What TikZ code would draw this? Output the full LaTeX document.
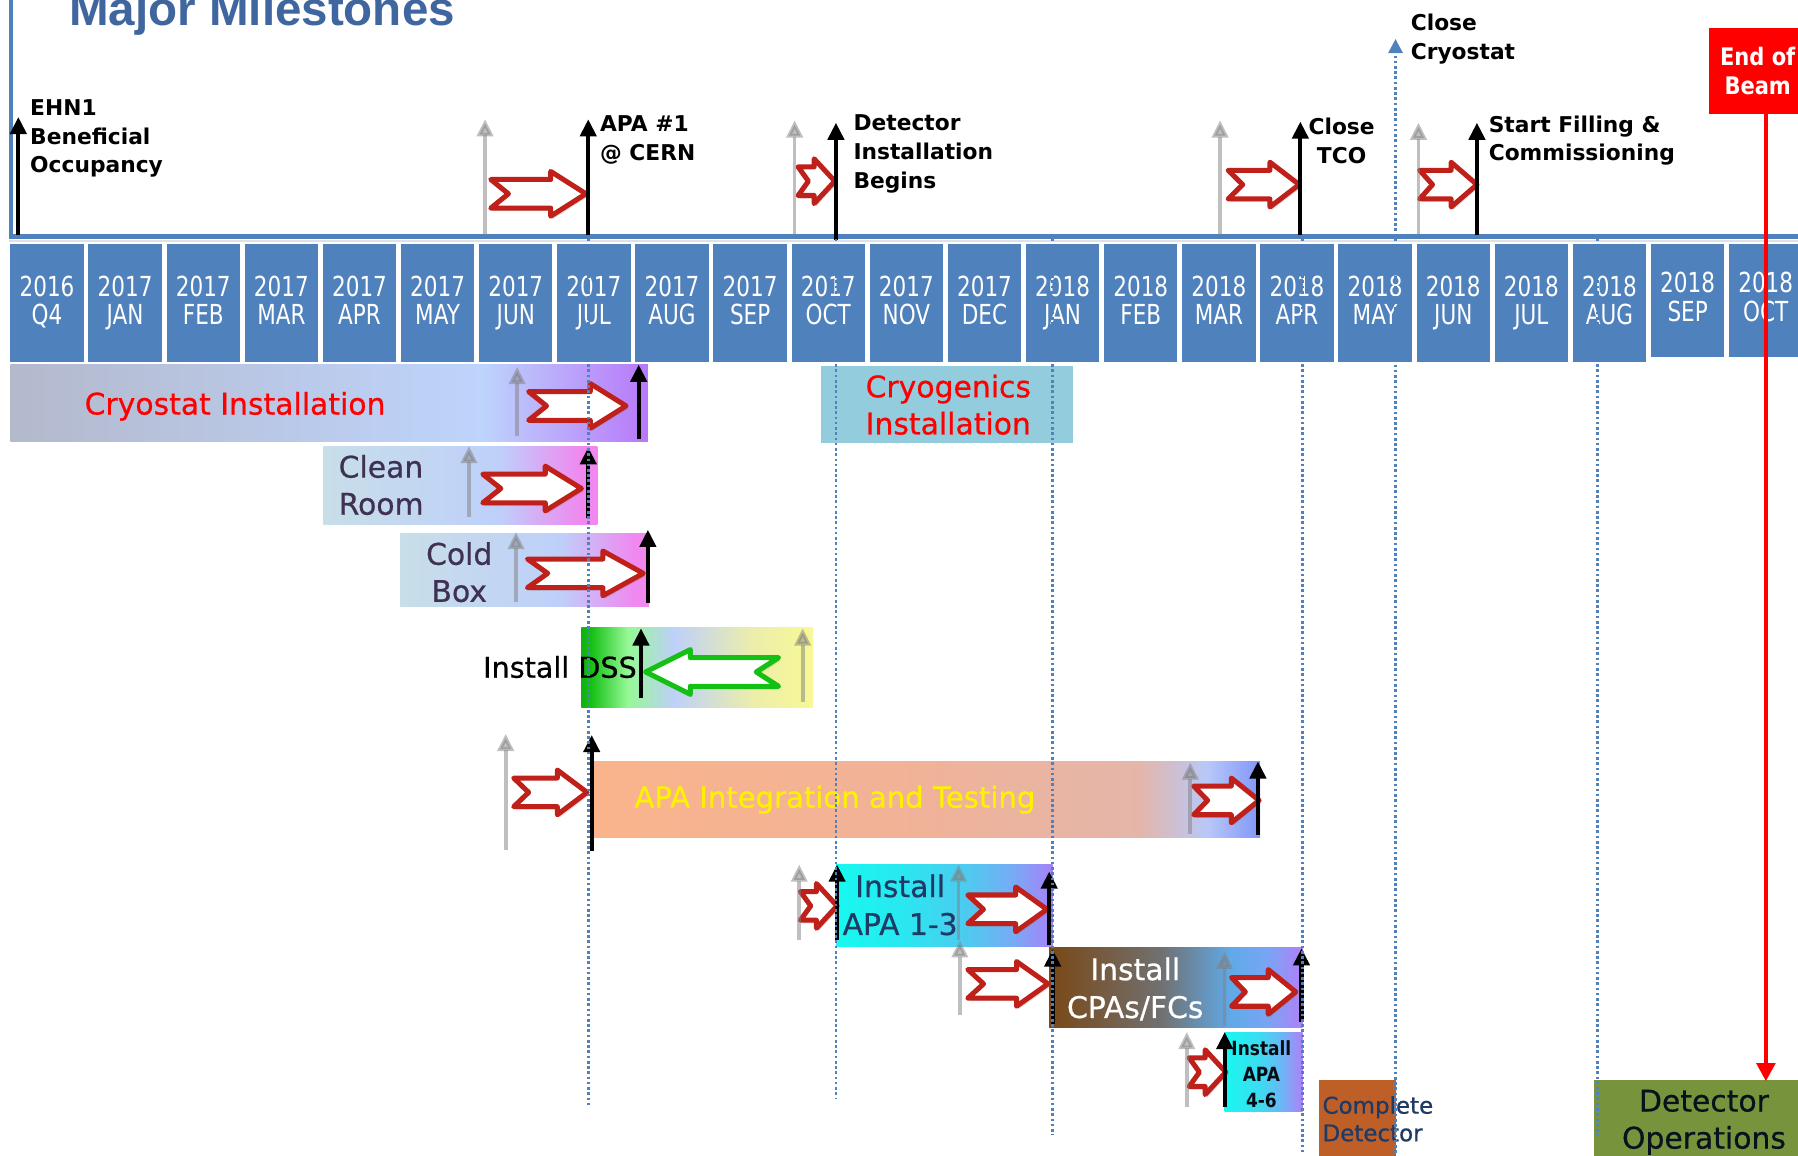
\documentclass[tikz,border=0pt]{standalone}
\usepackage{fontspec}
\setmainfont{DejaVu Sans}
\newfontfamily\condfont[FakeStretch=0.78]{DejaVu Sans}
\newfontfamily\narrowfont[FakeStretch=0.87]{DejaVu Sans}
\newfontfamily\heavyfont[FakeBold=0.6]{DejaVu Sans}
\newfontfamily\titlefont{Liberation Sans}
\usetikzlibrary{arrows.meta,shadows}

\definecolor{slideblue}{HTML}{4F81BD}
\definecolor{titleblue}{HTML}{4066A0}
\definecolor{chevred}{HTML}{C0201A}
\definecolor{chevgreen}{HTML}{14C014}
\definecolor{cryogenics}{HTML}{93CDDD}
\definecolor{completeorange}{HTML}{BE5F28}
\definecolor{opsgreen}{HTML}{77933C}
\definecolor{navytext}{HTML}{1F3A64}
\definecolor{purpletext}{HTML}{3F3151}

%% bar shadings (only the middle 50bp is stretched over a bar)
\pgfdeclarehorizontalshading{cryoshade}{100bp}{rgb(0bp)=(.706,.725,.8); rgb(25bp)=(.706,.725,.8); rgb(62bp)=(.745,.831,.988); rgb(75bp)=(.722,.471,.98); rgb(100bp)=(.722,.471,.98)}
\pgfdeclarehorizontalshading{cleanshade}{100bp}{rgb(0bp)=(.784,.871,.91); rgb(25bp)=(.784,.871,.91); rgb(57bp)=(.745,.816,.98); rgb(72bp)=(.941,.533,.941); rgb(100bp)=(.941,.533,.941)}
\pgfdeclarehorizontalshading{dssshade}{100bp}{rgb(0bp)=(.063,.69,.063); rgb(25bp)=(.063,.69,.063); rgb(27bp)=(.08,.75,.08); rgb(35bp)=(.588,.973,.588); rgb(45bp)=(.745,.816,.98); rgb(62bp)=(.925,.933,.667); rgb(75bp)=(.973,.973,.588); rgb(100bp)=(.973,.973,.588)}
\pgfdeclarehorizontalshading{apashade}{100bp}{rgb(0bp)=(.98,.706,.549); rgb(25bp)=(.98,.706,.549); rgb(50bp)=(.941,.698,.596); rgb(66bp)=(.894,.714,.667); rgb(71bp)=(.722,.784,.973); rgb(75bp)=(.502,.588,.973); rgb(100bp)=(.502,.588,.973)}
\pgfdeclarehorizontalshading{apaoneshade}{100bp}{rgb(0bp)=(.094,.973,.941); rgb(25bp)=(.094,.973,.941); rgb(40bp)=(.157,.91,.941); rgb(56bp)=(.314,.784,.941); rgb(66bp)=(.471,.667,.965); rgb(75bp)=(.659,.502,.973); rgb(100bp)=(.659,.502,.973)}
\pgfdeclarehorizontalshading{cpashade}{100bp}{rgb(0bp)=(.478,.282,.086); rgb(25bp)=(.478,.282,.086); rgb(47bp)=(.44,.44,.44); rgb(61bp)=(.376,.667,.91); rgb(68bp)=(.471,.647,.96); rgb(75bp)=(.69,.502,.973); rgb(100bp)=(.69,.502,.973)}
\pgfdeclarehorizontalshading{apafourshade}{100bp}{rgb(0bp)=(.094,.973,.941); rgb(25bp)=(.094,.973,.941); rgb(47bp)=(.235,.863,.941); rgb(62bp)=(.431,.706,.961); rgb(75bp)=(.69,.502,.973); rgb(100bp)=(.69,.502,.973)}

%% notched block arrow: tail x, tip x, centre y, colour
\newcommand\chevarrow[4]{%
  \pgfmathsetmacro\dir{(#2>#1) ? 1 : -1}
  \pgfmathsetmacro\headlen{(10+0.25*abs(#2-#1))*\dir}
  \pgfmathsetmacro\notch{\headlen/2}
  \draw[chevron,draw=#4] (#1,{#3-12.5}) -- ({#2-\headlen},{#3-12.5}) -- ({#2-\headlen},{#3-19.5})
    -- (#2,#3) -- ({#2-\headlen},{#3+19.5}) -- ({#2-\headlen},{#3+12.5}) -- (#1,{#3+12.5})
    -- ({#1+\notch},#3) -- cycle;
}

\begin{document}
\begin{tikzpicture}[x=0.02cm,y=-0.02cm,
    month/.style={fill=slideblue,inner sep=0,minimum width=1.28cm,anchor=north},
    monthtext/.style={text=white,inner sep=0,anchor=north,align=center,font=\condfont\fontsize{13.7}{14.2}\selectfont},
    mslabel/.style={inner sep=0,anchor=north west,align=left,font=\bfseries\fontsize{10.8}{14.2}\selectfont},
    barlabel/.style={inner sep=0,align=center,font=\heavyfont\fontsize{14.8}{18.4}\selectfont},
    msdone/.style={line width=2pt,-{Triangle[width=8pt,length=8.5pt]}},
    msplan/.style={msdone,draw=black!50,opacity=.5,line width=1.8pt},
    chevron/.style={fill=white,line width=2.5pt,line join=round,drop shadow={opacity=.25,shadow xshift=1pt,shadow yshift=-1.5pt}},
    dotline/.style={slideblue,line width=1.4pt,dash pattern=on 1.3pt off 1.3pt}]
    \useasboundingbox (0,0) rectangle (1568,1008);
    \clip (0,0) rectangle (1568,1008);
    \fill[white] (0,0) rectangle (1568,1008);

    %% title and time axis
    \node[anchor=base west,inner sep=0,text=titleblue,font=\titlefont\bfseries\fontsize{23.6}{28}\selectfont] (title) at (60,22) {Major Milestones};
    \foreach \yr/\mo [count=\i from 0] in {2016/Q4,2017/JAN,2017/FEB,2017/MAR,2017/APR,2017/MAY,2017/JUN,2017/JUL,2017/AUG,2017/SEP,2017/OCT,2017/NOV,2017/DEC,2018/JAN,2018/FEB,2018/MAR,2018/APR,2018/MAY,2018/JUN,2018/JUL,2018/AUG,2018/SEP,2018/OCT} {
        \pgfmathsetmacro\mx{41+68.13*\i}
        \pgfmathsetmacro\lift{\i>20 ? 2 : 0}
        \node[month,minimum height={(103-2*\lift)*0.02cm}] (box\i) at (\mx,212) {};
        \node[monthtext] (date\i) at (\mx,{240.2-1.5*\lift}) {\yr\\\mo};
    }
    \draw[black!12,line width=1.2pt] (8,210) -- (1568,210);
    \draw[slideblue,line width=2.6pt] (8,206) -- (1568,206);
    \draw[slideblue,line width=2pt] (10,-5) -- (10,207);

    %% milestone labels
    \node[mslabel] (ehn) at (26,86.7) {EHN1\\Beneficial\\Occupancy};
    \node[mslabel] (apafirst) at (523,100.6) {APA \#1\\@ CERN};
    \node[mslabel] (detinst) at (744,100) {Detector\\Installation\\Begins};
    \node[mslabel,anchor=north,align=center] (tco) at (1170,102.7) {Close\\TCO};
    \node[mslabel] (closecryo) at (1230,12) {Close\\Cryostat};
    \node[mslabel] (filling) at (1298,100.6) {Start Filling \&\\Commissioning};
    \node[fill=red,text=white,inner sep=0,minimum width=1.7cm,minimum height=1.5cm,anchor=north west,align=center,
        font=\narrowfont\bfseries\fontsize{12}{14.2}\selectfont] (eob) at (1490,24) {End of\\Beam};

    %% activity bars
    \shade[shading=cryoshade] (9,318) rectangle (565,385);
    \fill[cryogenics] (716,319) rectangle (936,386);
    \shade[shading=cleanshade] (282,389) rectangle (521,457);
    \shade[shading=cleanshade] (349,465) rectangle (566,529);
    \shade[shading=dssshade] (507,547) rectangle (709,617);
    \shade[shading=apashade] (518,664) rectangle (1099,730);
    \shade[shading=apaoneshade] (729,754) rectangle (918,825);
    \shade[shading=cpashade] (915,826) rectangle (1136,896);
    \shade[shading=apafourshade] (1068,900) rectangle (1136,969);
    \fill[completeorange] (1150,942) rectangle (1217,1010);
    \fill[opsgreen] (1390,942) rectangle (1570,1010);

    \node[barlabel,anchor=base,text=red] (cryoinst) at (205,361.5) {Cryostat Installation};
    \node[barlabel,anchor=north,text=red] (cryogen) at (827,326.4) {Cryogenics\\Installation};
    \node[barlabel,anchor=north west,align=left,text=purpletext] (clean) at (295,396.4) {Clean\\Room};
    \node[barlabel,anchor=north,text=purpletext] (cold) at (400.5,472.4) {Cold\\Box};
    \node[barlabel,anchor=base west,font=\heavyfont\fontsize{14.2}{18}\selectfont] (dss) at (421,591) {Install DSS};
    \node[barlabel,anchor=base west,text=yellow,font=\heavyfont\fontsize{14.45}{18}\selectfont] (apaint) at (553,704.3) {APA Integration and Testing};
    \node[barlabel,anchor=north,text=navytext,font=\heavyfont\fontsize{14.8}{18.8}\selectfont] (apaone) at (785,762.2) {Install\\APA 1-3};
    \node[barlabel,anchor=north,text=white,font=\heavyfont\fontsize{14.8}{18.8}\selectfont] (cpa) at (990,834.6) {Install\\CPAs/FCs};
    \node[barlabel,anchor=north,text=black!80!navytext,font=\narrowfont\bfseries\fontsize{9.7}{13.1}\selectfont] (apafour) at (1100,906.8) {Install\\APA\\4-6};
    \node[barlabel,anchor=north west,align=left,text=navytext,font=\heavyfont\fontsize{11.4}{13.7}\selectfont] (complete) at (1153,955.6) {Complete\\Detector};
    \node[barlabel,anchor=north,text=black!70!navytext,font=\heavyfont\fontsize{14.8}{18.4}\selectfont] (ops) at (1486,950) {Detector\\Operations};

    %% shift arrows
    \foreach \a/\b/\c/\col in {428/511/169/chevred, 696/728/158/chevred, 1071/1133/161/chevred, 1238/1288/161/chevred,
        461/546/354/chevred, 421/507/426/chevred, 460/561/500/chevred, 679/563/586/chevgreen,
        448/512/691/chevred, 1041/1098/698/chevred, 698/730/790/chevred, 844/913/793/chevred,
        844/914/858/chevred, 1074/1130/865/chevred, 1037/1069/935/chevred}
        \chevarrow{\a}{\b}{\c}{\col};

    %% planned (grey) and current (black) dates
    \foreach \x/\a/\b in {423/205/104, 693/205/105, 1064/205/105, 1237/205/107, 451/380/320, 409/451/389,
        450/525/464, 700/612/548, 441/741/640, 1038/727/665, 697/820/754, 836/820/754, 837/885/820,
        1068/895/830, 1035/965/900}
        \draw[msplan] (\x,\a) -- (\x,\b);
    \foreach \x/\a/\b in {16/205/102, 513/205/104, 729/209/107, 1134/205/106, 1288/205/107, 557/383/318,
        513/452/390, 565/526/462, 559/609/548, 516/742/641, 1097/728/664, 730/820/754, 915/824/760,
        918/893/828, 1135/891/827, 1068/965/900}
        \draw[msdone] (\x,\a) -- (\x,\b);

    %% date guides
    \foreach \x/\yend in {513/965, 729/958, 918/990, 1136/1005, 1393/990}
        \draw[dotline] (\x,208) -- (\x,\yend);
    \draw[dotline,-{Triangle[width=7pt,length=7pt]}] (1217,1010) -- (1217,34);
    \draw[red,line width=2.3pt,-{Triangle[width=9pt,length=9pt]}] (1540,99) -- (1540,943);
\end{tikzpicture}
\end{document}
